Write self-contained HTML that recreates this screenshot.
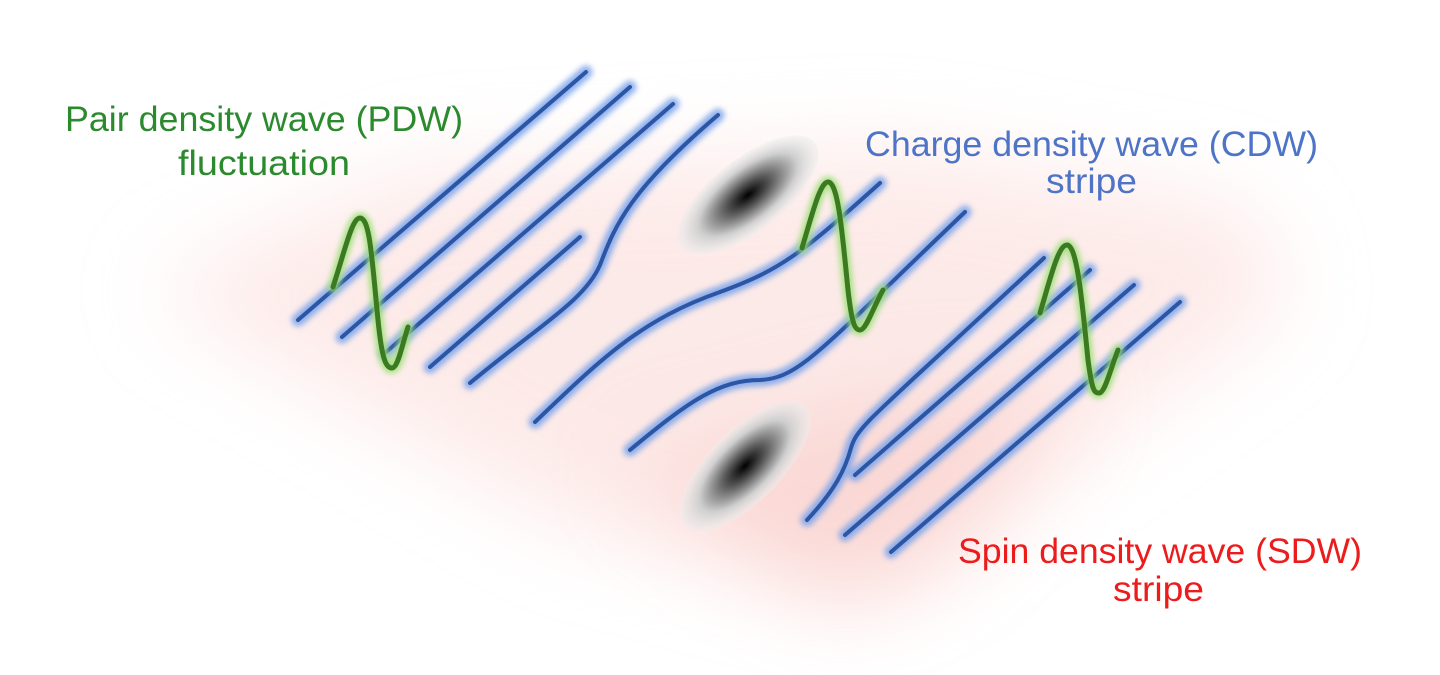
<!DOCTYPE html>
<html><head><meta charset="utf-8"><style>
html,body{margin:0;padding:0;background:#fff;width:1440px;height:675px;overflow:hidden}
svg{display:block}
text{font-family:"Liberation Sans",sans-serif;font-size:35px}
</style></head><body>
<svg width="1440" height="675" viewBox="0 0 1440 675" xmlns="http://www.w3.org/2000/svg">
<defs>
<filter id="bg" x="-30%" y="-50%" width="160%" height="200%"><feGaussianBlur stdDeviation="45"/></filter>
<filter id="gl" x="-20%" y="-20%" width="140%" height="140%"><feGaussianBlur stdDeviation="3"/></filter>
<radialGradient id="blob">
<stop offset="0" stop-color="#000"/>
<stop offset="0.3" stop-color="#555"/>
<stop offset="0.7" stop-color="#cfcfcf"/>
<stop offset="1" stop-color="#eee" stop-opacity="0.5"/>
</radialGradient>
</defs>
<polygon points="150,290 420,170 900,150 1250,210 1290,300 1050,470 870,600 560,520" fill="#fbd9d6" opacity="0.55" filter="url(#bg)"/>
<polygon points="620,470 880,400 1080,390 950,560 830,600" fill="#f8c4c0" opacity="0.5" filter="url(#bg)"/>

<ellipse cx="748" cy="195" rx="85" ry="36" transform="rotate(-38 748 195)" fill="url(#blob)"/>
<ellipse cx="745" cy="466" rx="85" ry="36" transform="rotate(-45 745 466)" fill="url(#blob)"/>

<g fill="none" stroke-linecap="round">
<g stroke="#7aa3ea" stroke-width="13" filter="url(#gl)" opacity="0.85">
<path d="M298,320 L586,72"/>
<path d="M342,337 L630,87"/>
<path d="M385,353 L673,104"/>
<path d="M430,367 L580,237"/>
<path d="M470,383 C540,325 585,300 600,265 C615,225 630,190 718,115"/>
<path d="M535,422 C600,360 640,320 720,292 C780,270 800,255 880,183"/>
<path d="M630,450 C690,400 720,380 760,380 C800,378 820,350 965,212"/>
<path d="M807,520 C835,490 845,470 851,448 C858,425 870,420 1044,258"/>
<path d="M855,475 L1090,270"/>
<path d="M845,535 L1134,285"/>
<path d="M891,552 L1180,302"/>
</g>
<g stroke="#2b55a5" stroke-width="4">
<path d="M298,320 L586,72"/>
<path d="M342,337 L630,87"/>
<path d="M385,353 L673,104"/>
<path d="M430,367 L580,237"/>
<path d="M470,383 C540,325 585,300 600,265 C615,225 630,190 718,115"/>
<path d="M535,422 C600,360 640,320 720,292 C780,270 800,255 880,183"/>
<path d="M630,450 C690,400 720,380 760,380 C800,378 820,350 965,212"/>
<path d="M807,520 C835,490 845,470 851,448 C858,425 870,420 1044,258"/>
<path d="M855,475 L1090,270"/>
<path d="M845,535 L1134,285"/>
<path d="M891,552 L1180,302"/>
</g>
<g stroke="#9fe07a" stroke-width="11" filter="url(#gl)" opacity="0.9">
<path d="M333,287 C345,250 352,218 360,218 C370,218 372,260 378,320 C382,360 386,368 392,368 C398,368 402,345 408,327"/>
<path d="M802,248 C812,215 820,182 828,182 C838,182 842,230 848,290 C852,325 855,330 860,330 C866,330 872,310 883,290"/>
<path d="M1040,313 C1050,280 1058,245 1067,245 C1077,245 1082,300 1088,360 C1092,390 1094,393 1099,393 C1105,393 1110,370 1118,350"/>
</g>
<g stroke="#3c7a22" stroke-width="5">
<path d="M333,287 C345,250 352,218 360,218 C370,218 372,260 378,320 C382,360 386,368 392,368 C398,368 402,345 408,327"/>
<path d="M802,248 C812,215 820,182 828,182 C838,182 842,230 848,290 C852,325 855,330 860,330 C866,330 872,310 883,290"/>
<path d="M1040,313 C1050,280 1058,245 1067,245 C1077,245 1082,300 1088,360 C1092,390 1094,393 1099,393 C1105,393 1110,370 1118,350"/>
</g>
</g>

<g fill="#2b8a2e">
<text x="65" y="131" textLength="398" lengthAdjust="spacingAndGlyphs">Pair density wave (PDW)</text>
<text x="178" y="175" textLength="172" lengthAdjust="spacingAndGlyphs">fluctuation</text>
</g>
<g fill="#4d74c6">
<text x="865" y="156" textLength="453" lengthAdjust="spacingAndGlyphs">Charge density wave (CDW)</text>
<text x="1046" y="193" textLength="91" lengthAdjust="spacingAndGlyphs">stripe</text>
</g>
<g fill="#ec1c1c">
<text x="958" y="563" textLength="404" lengthAdjust="spacingAndGlyphs">Spin density wave (SDW)</text>
<text x="1113" y="601" textLength="91" lengthAdjust="spacingAndGlyphs">stripe</text>
</g>
</svg>
</body></html>
